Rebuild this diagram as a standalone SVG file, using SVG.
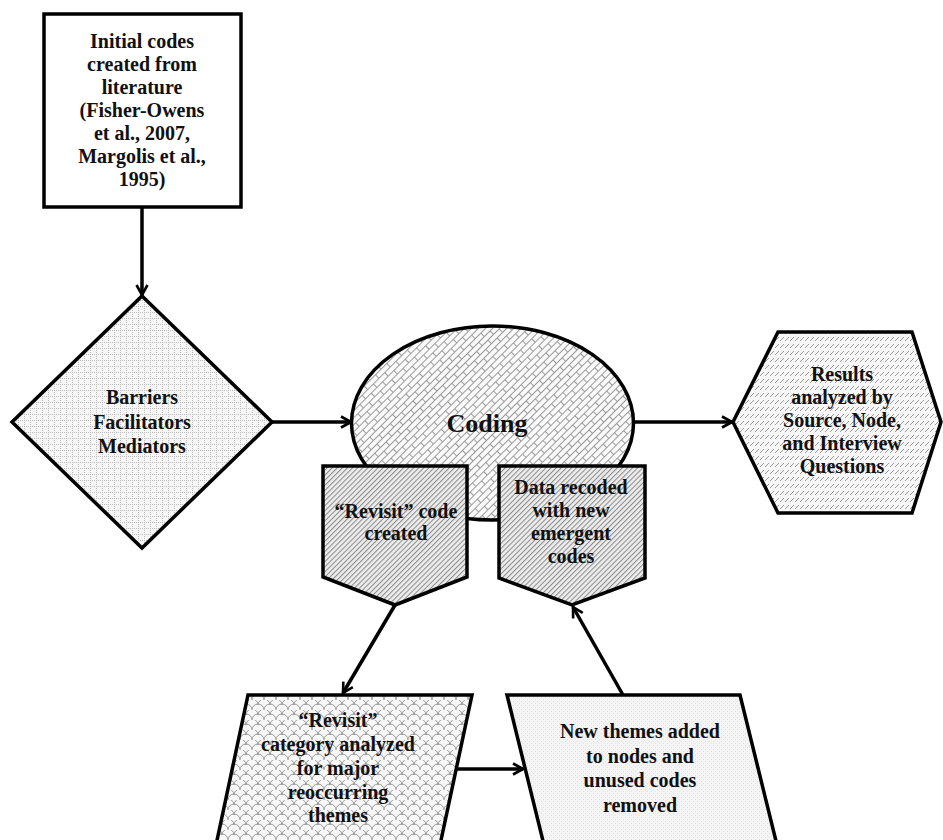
<svg xmlns="http://www.w3.org/2000/svg" width="943" height="840" viewBox="0 0 943 840">
<style>
.shape{stroke:#000;stroke-width:3.5;stroke-linejoin:miter}
.t{font-family:"Liberation Serif","Times New Roman",serif;font-weight:bold;font-size:20px;fill:#111;text-anchor:middle}
.conn{stroke:#000;stroke-width:3.5;fill:none}
</style>
<defs>
<marker id="arr" viewBox="0 0 14 14" refX="12" refY="7" markerWidth="14" markerHeight="14" markerUnits="userSpaceOnUse" orient="auto">
<path d="M2,1.5 L12,7 L2,12.5" fill="none" stroke="#000" stroke-width="2.6"/>
</marker>
<pattern id="grid" patternUnits="userSpaceOnUse" width="6" height="6">
<rect width="6" height="6" fill="#f6f6f6"/>
<path d="M0,0.5H6M0.5,0V6" stroke="#bcbcbc" stroke-width="1" stroke-dasharray="1,1"/>
</pattern>
<pattern id="brick" patternUnits="userSpaceOnUse" width="16" height="10" patternTransform="rotate(-45)">
<rect width="16" height="10" fill="#fafafa"/>
<path d="M0,0.5H16M0,5.5H16M0.5,0V5.5M8.5,5.5V10" stroke="#9a9a9a" stroke-width="1" fill="none"/>
</pattern>
<pattern id="diag" patternUnits="userSpaceOnUse" width="3.6" height="3.6" patternTransform="rotate(45)">
<rect width="3.6" height="3.6" fill="#ececec"/>
<path d="M0.5,0V3.6" stroke="#8a8a8a" stroke-width="1"/>
</pattern>
<pattern id="dash" patternUnits="userSpaceOnUse" width="5" height="7">
<rect width="5" height="7" fill="#f7f7f7"/>
<path d="M0,5 L4,1" stroke="#9a9a9a" stroke-width="1"/>
</pattern>
<pattern id="scale" patternUnits="userSpaceOnUse" width="12" height="10">
<rect width="12" height="10" fill="#f7f7f7"/>
<path d="M0,10 A6,6 0 0 1 12,10 M-6,5 A6,6 0 0 1 6,5 M6,5 A6,6 0 0 1 18,5 M0,0 A6,6 0 0 1 12,0" stroke="#999" stroke-width="1" fill="none"/>
</pattern>
<pattern id="faint" patternUnits="userSpaceOnUse" width="4" height="4">
<rect width="4" height="4" fill="#f4f4f4"/>
<rect x="1" y="1" width="1" height="1" fill="#dedede"/>
<rect x="3" y="3" width="1" height="1" fill="#e2e2e2"/>
</pattern>
</defs>

<g id="connectors">
<line class="conn" x1="142" y1="207" x2="142" y2="295" marker-end="url(#arr)"/>
<line class="conn" x1="272" y1="422" x2="351" y2="422" marker-end="url(#arr)"/>
<line class="conn" x1="633" y1="422" x2="732" y2="422" marker-end="url(#arr)"/>
<line class="conn" x1="395" y1="605" x2="343" y2="693" marker-end="url(#arr)"/>
<line class="conn" x1="456" y1="769" x2="523" y2="769" marker-end="url(#arr)"/>
<line class="conn" x1="623" y1="695" x2="573" y2="607" marker-end="url(#arr)"/>
</g>

<g id="initial-codes">
<rect class="shape" x="44" y="14" width="197" height="193" fill="#fff" stroke-width="4"/>
<text class="t" x="142" y="48">Initial codes</text>
<text class="t" x="142" y="71">created from</text>
<text class="t" x="142" y="94">literature</text>
<text class="t" x="142" y="117">(Fisher-Owens</text>
<text class="t" x="142" y="140">et al., 2007,</text>
<text class="t" x="142" y="163">Margolis et al.,</text>
<text class="t" x="142" y="186">1995)</text>
</g>

<g id="barriers">
<polygon class="shape" points="142,296 272,422 142,548 12,422" fill="url(#grid)"/>
<text class="t" x="142" y="404">Barriers</text>
<text class="t" x="142" y="429">Facilitators</text>
<text class="t" x="142" y="453">Mediators</text>
</g>

<g id="coding">
<ellipse class="shape" cx="492.5" cy="423" rx="141" ry="97" fill="url(#brick)"/>
<text class="t" x="487" y="432" style="font-size:26px">Coding</text>
</g>

<g id="results">
<polygon class="shape" points="778,332 912,332 941,422 912,513 778,513 733,422" fill="url(#dash)"/>
<text class="t" x="842" y="381">Results</text>
<text class="t" x="842" y="404">analyzed by</text>
<text class="t" x="842" y="427">Source, Node,</text>
<text class="t" x="842" y="450">and Interview</text>
<text class="t" x="842" y="473">Questions</text>
</g>

<g id="revisit-code">
<polygon class="shape" points="323,466 467,466 467,577 395,605 323,577" fill="url(#diag)"/>
<text class="t" x="396" y="518">“Revisit” code</text>
<text class="t" x="396" y="540">created</text>
</g>

<g id="data-recoded">
<polygon class="shape" points="499,466 645,466 645,578 572,605 499,578" fill="url(#diag)"/>
<text class="t" x="571" y="494">Data recoded</text>
<text class="t" x="571" y="517">with new</text>
<text class="t" x="571" y="540">emergent</text>
<text class="t" x="571" y="563">codes</text>
</g>

<g id="revisit-category">
<polygon class="shape" points="248,695 472,695 440,845 216,845" fill="url(#scale)"/>
<text class="t" x="338" y="727">“Revisit”</text>
<text class="t" x="338" y="751">category analyzed</text>
<text class="t" x="338" y="775">for major</text>
<text class="t" x="338" y="799">reoccurring</text>
<text class="t" x="338" y="822">themes</text>
</g>

<g id="new-themes">
<polygon class="shape" points="507,695 740,695 777,845 544,845" fill="url(#faint)"/>
<text class="t" x="640" y="738">New themes added</text>
<text class="t" x="640" y="763">to nodes and</text>
<text class="t" x="640" y="787">unused codes</text>
<text class="t" x="640" y="812">removed</text>
</g>
</svg>
